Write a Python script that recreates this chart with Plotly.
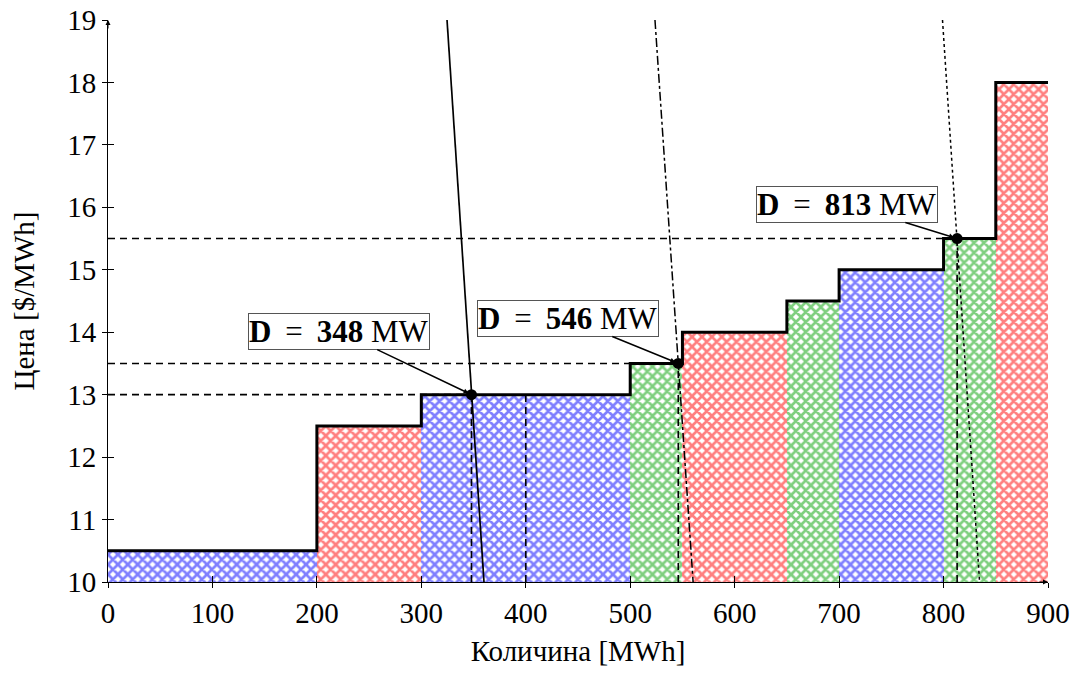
import plotly.graph_objects as go

# ---- data ----
block_left = [0, 200, 300, 500, 550, 650, 700, 800, 850]
block_right = [200, 300, 500, 550, 650, 700, 800, 850, 900]
block_price = [10.5, 12.5, 13.0, 13.5, 14.0, 14.5, 15.0, 15.5, 18.0]
block_color = ["#0000ff", "#ff0000", "#0000ff", "#00a000", "#ff0000",
               "#00a000", "#0000ff", "#00a000", "#ff0000"]

# demand curves (quantity at top price 19 and at floor price 10)
demand_q = [[324.6, 360.0], [523.7, 560.2], [799.0, 834.5]]
demand_p = [19.0, 10.0]
demand_dash = ["solid", "dashdot", "dot"]

# equilibria
eq_q = [348, 546, 813]
eq_p = [13.0, 13.5, 15.5]
eq_label = ["348", "546", "813"]
label_offset = [(-132, -63), (-110, -45), (-110, -34)]

extra_vline_q = 400
extra_vline_p = 13.0

x_ticks = [0, 100, 200, 300, 400, 500, 600, 700, 800, 900]
y_ticks = [10, 11, 12, 13, 14, 15, 16, 17, 18, 19]
x_range = [0, 900]
y_range = [10, 19]

FONT = "Liberation Serif"

fig = go.Figure()

# hatched supply blocks
for l, r, p, c in zip(block_left, block_right, block_price, block_color):
    fig.add_trace(go.Bar(
        x=[(l + r) / 2], y=[p - y_range[0]], base=y_range[0], width=[r - l],
        marker=dict(color="white", line=dict(width=0),
                    pattern=dict(shape="x", fgcolor=c, bgcolor="white",
                                 size=7, solidity=0.62)),
        showlegend=False, hoverinfo="skip"))

# supply step line
step_x = block_left + [block_right[-1]]
step_y = block_price + [block_price[-1]]
fig.add_trace(go.Scatter(x=step_x, y=step_y, mode="lines",
                         line=dict(color="black", width=3, shape="hv"),
                         showlegend=False, hoverinfo="skip"))

# dashed guide lines
DASH = "7px,5px"
for q, p in zip(eq_q, eq_p):
    fig.add_trace(go.Scatter(x=[x_range[0], q], y=[p, p], mode="lines",
                             line=dict(color="black", width=1.6, dash=DASH),
                             showlegend=False, hoverinfo="skip"))
    fig.add_trace(go.Scatter(x=[q, q], y=[y_range[0], p], mode="lines",
                             line=dict(color="black", width=1.6, dash=DASH),
                             showlegend=False, hoverinfo="skip"))
fig.add_trace(go.Scatter(x=[extra_vline_q, extra_vline_q],
                         y=[y_range[0], extra_vline_p], mode="lines",
                         line=dict(color="black", width=1.6, dash=DASH),
                         showlegend=False, hoverinfo="skip"))

# demand curves
for qs, d in zip(demand_q, demand_dash):
    fig.add_trace(go.Scatter(x=qs, y=demand_p, mode="lines",
                             line=dict(color="black", width=1.7 if d == "solid" else 1.5,
                                       dash=d),
                             showlegend=False, hoverinfo="skip"))

# equilibrium points
fig.add_trace(go.Scatter(x=eq_q, y=eq_p, mode="markers",
                         marker=dict(color="black", size=11),
                         showlegend=False, hoverinfo="skip"))

# invisible trace for the overlay axes (inner tick halves)
fig.add_trace(go.Scatter(x=[x_range[0]], y=[y_range[0]], xaxis="x2", yaxis="y2",
                         mode="markers", marker=dict(opacity=0),
                         showlegend=False, hoverinfo="skip"))

annotations = []
for q, p, lab, (ax, ay) in zip(eq_q, eq_p, eq_label, label_offset):
    annotations.append(dict(
        x=q, y=p, xref="x", yref="y", ax=ax, ay=ay,
        text="<b>D</b>\u2009 = \u2009<b>" + lab + "</b> MW",
        font=dict(family=FONT, size=31, color="black"),
        showarrow=True, arrowhead=2, arrowsize=0.7, arrowwidth=1.5,
        arrowcolor="black", bgcolor="white", bordercolor="#555555",
        borderwidth=1, borderpad=0, standoff=3))

# axis arrows
annotations.append(dict(x=x_range[1], y=y_range[0], xref="x", yref="y",
                        ax=-10, ay=0, text="", showarrow=True, arrowhead=2,
                        arrowsize=1, arrowwidth=1, arrowcolor="black"))
annotations.append(dict(x=x_range[0], y=y_range[1], xref="x", yref="y",
                        ax=0, ay=10, text="", showarrow=True, arrowhead=2,
                        arrowsize=1, arrowwidth=1, arrowcolor="black"))

fig.update_layout(
    width=1078, height=675,
    margin=dict(l=108, r=30, t=20, b=93, autoexpand=False),
    paper_bgcolor="white", plot_bgcolor="white",
    bargap=0, barmode="overlay",
    font=dict(family=FONT, size=29, color="black"),
    xaxis=dict(range=x_range, tickvals=x_ticks, ticks="outside", ticklen=5,
               tickcolor="black", tickwidth=1, showgrid=False, zeroline=False,
               showline=True, linecolor="black", linewidth=1, automargin=False,
               tickfont=dict(family=FONT, size=29),
               title=dict(text="Количина [MWh]", font=dict(family=FONT, size=29),
                          standoff=12)),
    yaxis=dict(range=y_range, tickvals=y_ticks, ticks="outside", ticklen=5,
               tickcolor="black", tickwidth=1, showgrid=False, zeroline=False,
               showline=True, linecolor="black", linewidth=1, automargin=False,
               tickfont=dict(family=FONT, size=29), ticklabelstandoff=0,
               title=dict(text="Цена [$/MWh]", font=dict(family=FONT, size=29),
                          standoff=24)),
    xaxis2=dict(overlaying="x", matches="x", range=x_range, tickvals=x_ticks,
                ticks="inside", ticklen=6, tickcolor="black", side="bottom",
                automargin=False,
                showticklabels=False, showgrid=False, zeroline=False, showline=False),
    yaxis2=dict(overlaying="y", matches="y", range=y_range, tickvals=y_ticks,
                ticks="inside", ticklen=6, tickcolor="black", side="left",
                automargin=False,
                showticklabels=False, showgrid=False, zeroline=False, showline=False),
    annotations=annotations,
)

fig.write_html("out.html", config={"displayModeBar": False},
               post_script="document.body.style.margin='0';document.body.style.overflow='hidden';")
